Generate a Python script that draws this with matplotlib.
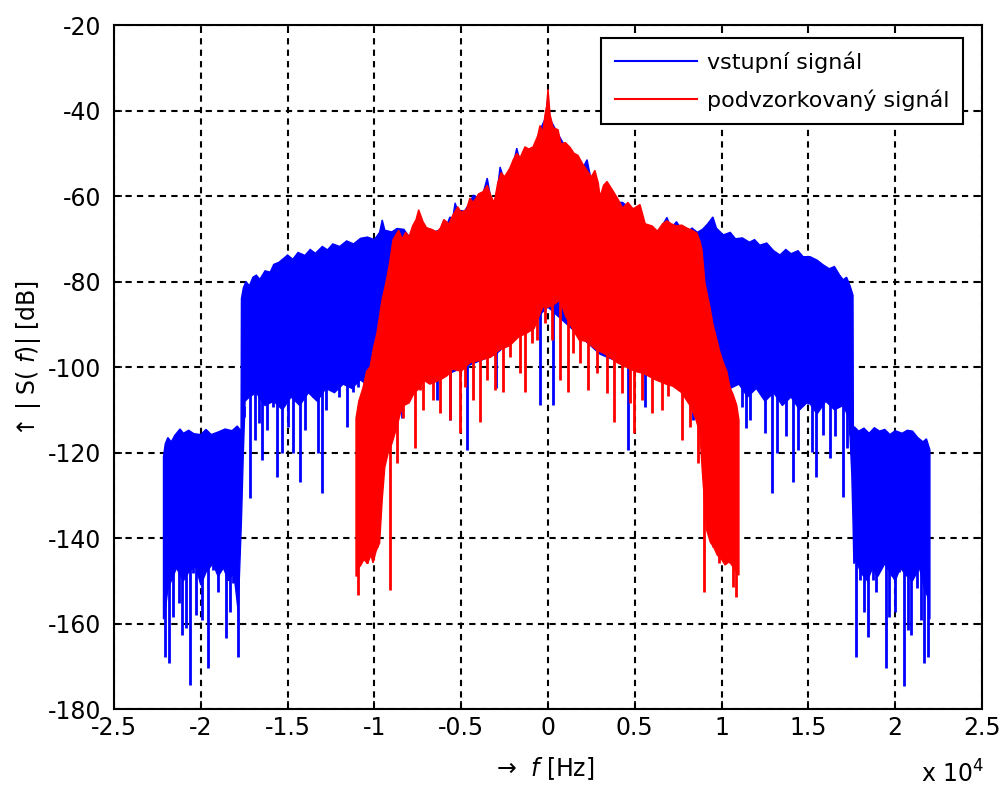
import matplotlib
matplotlib.use('Agg')
import numpy as np
import matplotlib.pyplot as plt
from matplotlib.lines import Line2D
from matplotlib.ticker import FormatStrFormatter

plt.rcParams['font.family'] = ['DejaVu Sans']
plt.rcParams['axes.unicode_minus'] = False
plt.rcParams['mathtext.fontset'] = 'dejavusans'

# frequency in units of 10^4 Hz, level in dB
blue_up_f = [-2.215, -2.205, -2.19, -2.17, -2.15, -2.12, -2.10, -2.07, -2.04, -2.00, -1.97, -1.94,
             -1.90, -1.86, -1.82, -1.79, -1.768, -1.766, -1.755, -1.74, -1.72, -1.70, -1.68, -1.66,
             -1.63, -1.60, -1.58, -1.55, -1.52, -1.50, -1.47, -1.44, -1.40, -1.37, -1.34, -1.30,
             -1.27, -1.24, -1.20, -1.16, -1.12, -1.08, -1.04, -1.00, -0.97, -0.955, -0.94, -0.90,
             -0.87, -0.83, -0.80, -0.76, -0.745, -0.72, -0.67, -0.62, -0.585, -0.565, -0.55, -0.535,
             -0.52, -0.48, -0.45, -0.43, -0.40, -0.375, -0.35, -0.33, -0.31, -0.29, -0.276, -0.25,
             -0.22, -0.20, -0.18, -0.16, -0.133, -0.086, -0.06, -0.046, -0.017, 0.0, 0.012, 0.058,
             0.10, 0.15, 0.20, 0.225, 0.25, 0.27, 0.30, 0.34, 0.40, 0.43, 0.46, 0.49,
             0.53, 0.56, 0.63, 0.685, 0.71, 0.74, 0.77, 0.80, 0.83, 0.86, 0.89, 0.92,
             0.95, 0.97, 1.01, 1.05, 1.08, 1.12, 1.16, 1.19, 1.22, 1.26, 1.30, 1.336,
             1.37, 1.40, 1.44, 1.47, 1.51, 1.55, 1.585, 1.62, 1.65, 1.68, 1.70, 1.72,
             1.74, 1.757, 1.759, 1.765, 1.79, 1.82, 1.85, 1.88, 1.91, 1.94, 1.97, 2.00,
             2.04, 2.07, 2.10, 2.13, 2.16, 2.18, 2.20]
blue_up_db = [-121, -118, -116.5, -117.5, -116, -114.5, -115.5, -114.8, -115.6, -115.8, -114.6, -115.8,
              -115.2, -114.5, -114.9, -113.8, -115, -84, -81.5, -80, -81, -79, -78.5, -79.5,
              -77.5, -77.8, -76, -75.5, -74.5, -73.8, -74.8, -73.2, -73.9, -72.5, -73.4, -71.8,
              -72.6, -71.2, -71.8, -70.5, -71.2, -69.9, -69.6, -70.2, -68.5, -65.6, -68, -68.4,
              -67.6, -67.8, -69.5, -66.5, -64.5, -67, -68.5, -68, -67, -64.9, -65.5, -61.6,
              -63.5, -63.5, -61.5, -59.8, -60.5, -59.5, -55.8, -60.5, -62, -58, -53.2, -56.5,
              -54.5, -52.5, -48.8, -52, -49.5, -49.5, -47, -44.5, -42, -37, -42, -45.5,
              -48.5, -51, -53.5, -51.5, -56.5, -55, -61, -57.5, -61.5, -61.5, -62.5, -64,
              -63, -67.5, -69, -65, -67.5, -66, -67.8, -68.5, -67.5, -68.5, -67.8, -66.5,
              -64.9, -67.5, -69.1, -68.5, -70, -69.8, -70.8, -70.2, -71.5, -71, -72.8, -73.8,
              -72.5, -73.5, -72.8, -74.2, -74.2, -75, -76.1, -77, -76.5, -78.5, -79.6, -79,
              -81, -83.2, -114.5, -114, -115, -114.3, -115.5, -114.2, -115, -114.6, -115.8, -114.9,
              -115.5, -114.8, -115, -116.5, -117.5, -116.8, -119.4]

blue_lo_f = [-2.215, -2.205, -2.19, -2.17, -2.14, -2.10, -2.07, -2.03, -2.00, -1.97, -1.93, -1.90,
             -1.87, -1.84, -1.81, -1.785, -1.775, -1.766, -1.755, -1.745, -1.72, -1.68, -1.63, -1.58,
             -1.53, -1.48, -1.43, -1.38, -1.33, -1.28, -1.23, -1.18, -1.13, -1.08, -1.03, -0.98,
             -0.93, -0.88, -0.80, -0.60, -0.30, 0.0, 0.30, 0.60, 0.80, 0.88, 0.95, 1.00,
             1.05, 1.10, 1.15, 1.20, 1.25, 1.30, 1.35, 1.40, 1.45, 1.50, 1.55, 1.60,
             1.65, 1.70, 1.735, 1.75, 1.757, 1.762, 1.775, 1.80, 1.84, 1.87, 1.90, 1.94,
             1.97, 2.00, 2.03, 2.07, 2.10, 2.14, 2.17, 2.19, 2.20]
blue_lo_db = [-159, -157, -152, -150, -147, -150, -148, -146.5, -151, -148, -146, -149,
              -147, -150, -148, -157, -146, -136, -120, -108, -107, -106, -109, -108,
              -110, -107, -109, -106, -108, -105, -106, -104, -105, -103, -104.7, -103,
              -104, -101, -104, -102, -97, -86, -97, -102, -104, -101, -104, -103,
              -105, -104, -107, -105, -108, -106, -109, -107, -110, -108, -111, -108,
              -110, -109, -112, -125, -136, -146, -145, -148, -150, -147, -149, -146,
              -148, -150, -147, -149, -150, -147, -152, -154, -159]

blue_spike_f = [-2.206, -2.181, -2.158, -2.124, -2.11, -2.085, -2.062, -2.043, -2.028, -1.995,
                -1.956, -1.93, -1.90, -1.855, -1.832, -1.815, -1.788,
                -1.751, -1.717, -1.688, -1.663, -1.645, -1.62, -1.586, -1.56, -1.534, -1.496,
                -1.467, -1.429, -1.40, -1.352, -1.323, -1.304, -1.279, -1.242, -1.202, -1.156,
                -1.121, -1.093, -0.843, -0.64, -0.565, -0.468, -0.30, -0.046, 0.031, 0.46,
                0.559, 0.834, 1.116, 1.14, 1.164, 1.25, 1.288, 1.317, 1.371, 1.413,
                1.442, 1.50, 1.519, 1.544, 1.586, 1.624, 1.653, 1.701, 1.72, 1.74,
                1.774, 1.797, 1.82, 1.842, 1.874, 1.89, 1.945, 1.966, 1.98, 1.999,
                2.024, 2.05, 2.072, 2.091, 2.128, 2.147, 2.166, 2.187]
blue_spike_db = [-167.8, -169.3, -158.4, -155.2, -162.7, -161, -174.4, -148.2, -158, -159.2,
                 -170.4, -147.5, -152.6, -163.4, -157.2, -150.5, -167.8,
                 -111.6, -130.6, -117, -113.1, -121.7, -114.8, -109.3, -125.7, -120.2, -114,
                 -120.2, -126.8, -114.8, -106.9, -120.2, -129.5, -110, -101.9, -106.9, -114,
                 -105.8, -104.7, -112, -107.7, -112.4, -119.4, -105, -108.9, -108.9, -119.4,
                 -109.3, -112.4, -109.3, -114.3, -112.4, -115.4, -129.5, -120.2, -116.2, -126.8,
                 -119.4, -108.6, -119.8, -125.8, -115.8, -121.3, -116.2, -130.4, -119, -115.8,
                 -167.8, -149.8, -157.2, -163.2, -149.8, -152.6, -170.4, -158.4, -149, -157.2,
                 -148, -174.6, -161.5, -162.7, -151.8, -159.2, -169.2, -167.8]

red_up_f = [-1.106, -1.09, -1.066, -1.045, -1.025, -1.005, -0.985, -0.97, -0.956, -0.94, -0.927, -0.91,
            -0.893, -0.875, -0.86, -0.84, -0.82, -0.80, -0.78, -0.76, -0.745, -0.72, -0.70, -0.67,
            -0.64, -0.62, -0.60, -0.57, -0.55, -0.52, -0.50, -0.47, -0.45, -0.43, -0.40, -0.375,
            -0.35, -0.33, -0.31, -0.29, -0.27, -0.25, -0.22, -0.20, -0.18, -0.16, -0.133, -0.11,
            -0.086, -0.06, -0.046, -0.03, -0.017, -0.008, 0.0, 0.006, 0.012, 0.03, 0.058, 0.075,
            0.10, 0.127, 0.15, 0.173, 0.20, 0.225, 0.25, 0.27, 0.29, 0.30, 0.32, 0.34,
            0.37, 0.40, 0.43, 0.46, 0.49, 0.53, 0.56, 0.60, 0.63, 0.66, 0.685, 0.71,
            0.74, 0.77, 0.80, 0.83, 0.858, 0.875, 0.887, 0.904, 0.92, 0.933, 0.95, 0.973,
            0.99, 1.01, 1.03, 1.048, 1.067, 1.087, 1.10]
red_up_db = [-112, -108, -104.9, -101, -100, -95.5, -92, -88, -84.3, -81.5, -78.9, -75,
             -70.3, -69, -68, -70, -68.5, -69.5, -67, -65.5, -63.2, -66, -67.4, -67.8,
             -68.4, -67.5, -65.5, -66.5, -64.6, -62.5, -63.8, -63.2, -60.5, -61.5, -59.5, -59,
             -57.5, -59.8, -61.6, -57, -54.5, -55.5, -53.5, -51.5, -50, -51, -48.5, -49,
             -48.5, -46, -43.5, -45, -41, -39, -35, -38, -41, -44, -44.5, -47.8,
             -47.5, -48.6, -50, -50.5, -52.5, -54, -55.5, -54, -57, -60.2, -57.5, -56.6,
             -58.5, -60.5, -62.8, -61.5, -63, -62, -66.5, -67, -68.2, -66.5, -65.8, -66.5,
             -67, -66.8, -67.5, -68, -68.7, -70.5, -72.6, -80.4, -83.5, -86, -90, -93.7,
             -96.5, -99, -101, -104.7, -106.5, -108.9, -112.4]

red_lo_f = [-1.106, -1.095, -1.08, -1.06, -1.04, -1.02, -1.008, -0.99, -0.97, -0.955, -0.94, -0.92,
            -0.90, -0.87, -0.85, -0.83, -0.80, -0.77, -0.74, -0.72, -0.68, -0.62, -0.58, -0.55,
            -0.50, -0.45, -0.40, -0.33, -0.28, -0.22, -0.17, -0.12, -0.08, -0.05, -0.03, 0.0,
            0.03, 0.07, 0.10, 0.14, 0.18, 0.22, 0.28, 0.33, 0.40, 0.45, 0.50, 0.55,
            0.62, 0.68, 0.72, 0.77, 0.818, 0.85, 0.875, 0.89, 0.913, 0.935, 0.953, 0.975,
            1.00, 1.02, 1.045, 1.07, 1.087, 1.10]
red_lo_db = [-149, -147, -146.5, -145, -146, -144, -145.8, -143, -141.2, -131, -123.4, -120,
             -118, -114, -110.7, -109, -108.4, -106, -105, -103, -104, -103, -102, -100.5,
             -101, -99, -98.5, -97.7, -96, -95, -93, -92, -91, -88, -86, -86,
             -85.5, -84.3, -88, -91, -93.7, -94, -96, -97, -99, -100, -101, -101.5,
             -103, -104, -104.5, -106, -109, -112, -115.4, -125, -138, -141, -142, -144,
             -145, -146.3, -145.5, -147, -148, -148.7]

red_spike_f = [-1.102, -1.093, -1.07, -1.045, -1.021, -1.006, -0.983, -0.958, -0.926, -0.91,
               -0.891, -0.872, -0.837, -0.795, -0.766, -0.737, -0.718, -0.66, -0.622, -0.565,
               -0.507, -0.478, -0.43, -0.392, -0.353, -0.305, -0.257, -0.219, -0.161, -0.132,
               -0.094, -0.065, -0.017, 0.021, 0.069, 0.117, 0.146, 0.184, 0.232, 0.28,
               0.338, 0.38, 0.424, 0.472, 0.495, 0.54, 0.597, 0.655, 0.693, 0.77,
               0.818, 0.866, 0.899, 0.923, 0.952, 0.987, 1.0, 1.03, 1.048, 1.067, 1.081]
red_spike_db = [-149, -153.3, -142.8, -145.9, -135.8, -145.1, -142, -123.3, -118.6, -152.2,
                -113.1, -122.5, -112, -106.1, -118.9, -105.4, -110, -107.7, -110.8, -112.4,
                -115.4, -104.7, -107.7, -112.9, -103, -105.4, -105.8, -97.6, -101.4, -105.8,
                -94.4, -93.7, -89.7, -93.7, -103, -105.8, -96.8, -99.1, -105.4, -101.4,
                -106.1, -112.9, -106.1, -108.5, -115.4, -107.7, -110.8, -110, -106.8, -117,
                -114, -122.5, -152.6, -123.3, -142, -145.9, -137, -135.3, -145.9, -151.4, -153.8]

xticks = [-2.5, -2, -1.5, -1, -0.5, 0, 0.5, 1, 1.5, 2, 2.5]
yticks = [-180, -160, -140, -120, -100, -80, -60, -40, -20]


def draw_series(ax, up_f, up_db, lo_f, lo_db, sp_f, sp_db, color):
    px = list(up_f) + list(lo_f)[::-1]
    py = list(up_db) + list(lo_db)[::-1]
    ax.fill(px, py, facecolor=color, edgecolor=color, linewidth=1.0, zorder=2)
    base = np.interp(sp_f, lo_f, lo_db) + 6
    ax.vlines(sp_f, sp_db, base, colors=color, linewidth=2.0, zorder=2)


fig = plt.figure(figsize=(10.01, 7.87), dpi=100)
ax = fig.add_axes([0.1139, 0.0991, 0.8671, 0.8691])

draw_series(ax, blue_up_f, blue_up_db, blue_lo_f, blue_lo_db, blue_spike_f, blue_spike_db, '#0000ff')
draw_series(ax, red_up_f, red_up_db, red_lo_f, red_lo_db, red_spike_f, red_spike_db, '#ff0000')

ax.set_xlim(-2.5, 2.5)
ax.set_ylim(-180, -20)
ax.set_xticks(xticks)
ax.set_yticks(yticks)
ax.xaxis.set_major_formatter(FormatStrFormatter('%g'))
ax.yaxis.set_major_formatter(FormatStrFormatter('%g'))
ax.grid(True, color='black', linestyle=(0, (3, 2.5)), linewidth=1.5, zorder=0)
ax.set_axisbelow(True)
ax.tick_params(direction='in', length=6, width=1.2, top=True, right=True, labelsize=17)
ax.tick_params(axis='x', pad=5)
ax.tick_params(axis='y', pad=9)
for s in ax.spines.values():
    s.set_linewidth(1.5)

handles = [Line2D([], [], color='#0000ff', lw=1.5), Line2D([], [], color='#ff0000', lw=1.5)]
leg = ax.legend(handles, ['vstupní signál', 'podvzorkovaný signál'], loc='upper right',
                bbox_to_anchor=(0.978, 0.981), borderaxespad=0, fontsize=16,
                fancybox=False, framealpha=1, edgecolor='black', handlelength=3.7,
                handletextpad=0.45, labelspacing=0.75, borderpad=0.6)
leg.get_frame().set_linewidth(1.5)

fig.text(0.545, 0.024, r'→  $\mathit{f}$ [Hz]', ha='center', va='center', fontsize=17)
fig.text(0.028, 0.544, r'↑ | S( $\mathit{f}$)| [dB]', ha='center', va='center',
         rotation=90, fontsize=17)
fig.text(0.920, 0.016, r'x 10$^{4}$', ha='left', va='center', fontsize=17)

fig.savefig('out.png', dpi=100)
